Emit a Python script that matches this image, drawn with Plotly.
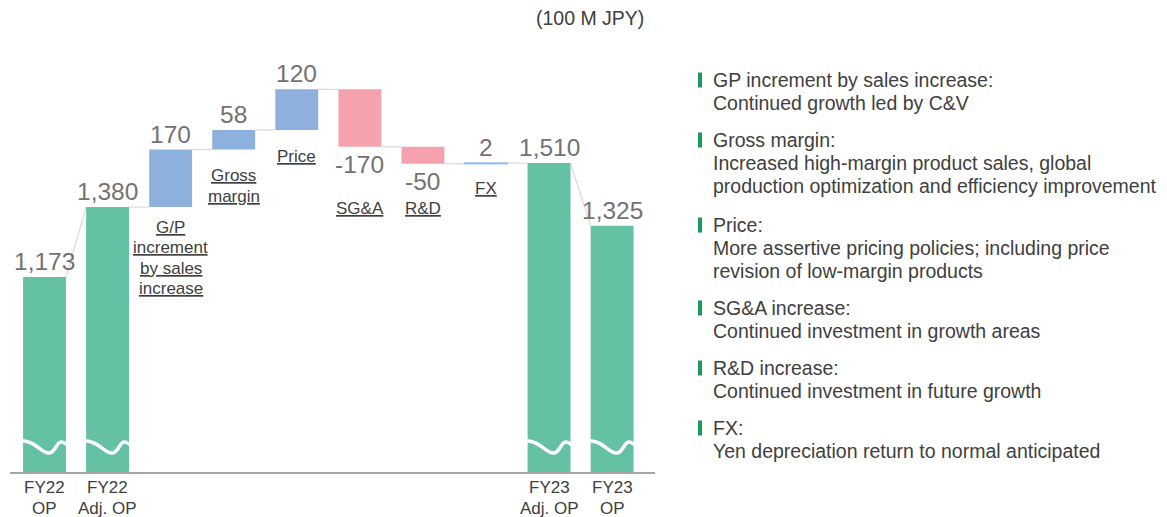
import plotly.graph_objects as go

# ---------------- data ----------------
fy22_op = 1173
fy22_adj_op = 1380
delta_names = [["G/P", "increment", "by sales", "increase"], ["Gross", "margin"], ["Price"],
               ["SG&A"], ["R&D"], ["FX"]]
delta_values = [170, 58, 120, -170, -50, 2]
fy23_adj_op = 1510
fy23_op = 1325
total_tick_labels = [["FY22", "OP"], ["FY22", "Adj. OP"], ["FY23", "Adj. OP"], ["FY23", "OP"]]
unit_label = "(100 M JPY)"
notes = [
    ["GP increment by sales increase:", "Continued growth led by C&V"],
    ["Gross margin:", "Increased high-margin product sales, global",
     "production optimization and efficiency improvement"],
    ["Price:", "More assertive pricing policies; including price",
     "revision of low-margin products"],
    ["SG&A increase:", "Continued investment in growth areas"],
    ["R&D increase:", "Continued investment in future growth"],
    ["FX:", "Yen depreciation return to normal anticipated"],
]

# ---------------- styles ----------------
GREEN = "#64C1A3"
BLUE = "#8EB0DC"
PINK = "#F5A2AE"
FX_BLUE = "#9DBEE8"
VAL_COLOR = "#767171"
TXT_COLOR = "#404040"
FONT = "Liberation Sans, Arial, sans-serif"
W, H = 1167, 517
BOT = 45
PH = H - BOT
BAR_W = 0.68
# offset (px) of first label line centre below the bar's low end, and line pitch
cat_label_first = [20, 26, 27, 62, 45, 24.5]
CAT_PITCH = 20.6

def py(p):  # pixel row -> paper fraction
    return (PH - p) / PH

def px(p):
    return p / W

# ---------------- positions ----------------
x_tot = [0, 1, 8, 9]
y_tot = [fy22_op, fy22_adj_op, fy23_adj_op, fy23_op]
x_delta = list(range(2, 8))
bases = []
level = fy22_adj_op
for d in delta_values:
    bases.append(level)
    level += d

fig = go.Figure()
fig.add_trace(go.Bar(x=x_tot, y=y_tot, width=BAR_W, marker=dict(color=GREEN, line=dict(width=0)),
                     hoverinfo="skip"))
d_colors = []
d_lw = []
for i, d in enumerate(delta_values):
    if delta_names[i][0] == "FX":
        d_colors.append(FX_BLUE); d_lw.append(1.5)
    elif d >= 0:
        d_colors.append(BLUE); d_lw.append(0)
    else:
        d_colors.append(PINK); d_lw.append(0)
fig.add_trace(go.Bar(x=x_delta, y=delta_values, base=bases, width=BAR_W,
                     marker=dict(color=d_colors, line=dict(color=d_colors, width=d_lw)),
                     hoverinfo="skip"))

# connectors
hw = BAR_W / 2
conn = [(0 + hw, fy22_op, 1 - hw, fy22_adj_op)]
lvl = fy22_adj_op
for i, d in enumerate(delta_values):
    xi = 2 + i
    conn.append((xi - 1 + hw, lvl, xi - hw, lvl))
    lvl += d
conn.append((7 + hw, lvl, 8 - hw, fy23_adj_op))
conn.append((8 + hw, fy23_adj_op, 9 - hw, fy23_op))
for (x0, y0, x1, y1) in conn:
    fig.add_shape(type="line", x0=x0, y0=y0, x1=x1, y1=y1, xref="x", yref="y",
                  line=dict(color="#D9D9D9", width=1.2), layer="below")

# break waves on total bars
for xc in x_tot:
    x0 = xc - hw - 0.02
    w = BAR_W + 0.04
    a, b, c, d_ = py(440.7), py(453), py(442), py(444.5)
    path = (f"M {x0},{a} C {x0+0.3*w},{a} {x0+0.42*w},{b} {x0+0.6*w},{b} "
            f"C {x0+0.74*w},{b} {x0+0.76*w},{c} {x0+0.87*w},{c} "
            f"C {x0+0.94*w},{c} {x0+0.97*w},{d_} {x0+w},{d_}")
    fig.add_shape(type="path", path=path, xref="x", yref="paper",
                  line=dict(color="white", width=3.5))

ann = []
VF = dict(size=24.5, color=VAL_COLOR, family=FONT)
# value labels
for xc, v in zip(x_tot, y_tot):
    ann.append(dict(x=xc, y=v, xref="x", yref="y", text=f"{v:,}", showarrow=False,
                    yanchor="bottom", yshift=0, font=VF))
for i, d in enumerate(delta_values):
    xc = 2 + i
    top = max(bases[i], bases[i] + d)
    bot = min(bases[i], bases[i] + d)
    if d >= 0:
        ann.append(dict(x=xc, y=top, xref="x", yref="y", text=f"{d}", showarrow=False,
                        yanchor="bottom", yshift=0, font=VF))
    else:
        ann.append(dict(x=xc, y=bot, xref="x", yref="y", text=f"{d}", showarrow=False,
                        yanchor="top", yshift=-2, font=VF))
    for j, line in enumerate(delta_names[i]):
        ann.append(dict(x=xc, y=bot, xref="x", yref="y", text=f"<u>{line}</u>", showarrow=False,
                        yanchor="middle", yshift=-(cat_label_first[i] + CAT_PITCH * j),
                        font=dict(size=17, color=TXT_COLOR, family=FONT)))

# category labels under the axis for totals
for xc, lines in zip(x_tot, total_tick_labels):
    for j, line in enumerate(lines):
        ann.append(dict(x=xc, y=py(488 + 20 * j), xref="x", yref="paper", text=line,
                        showarrow=False, yanchor="middle",
                        font=dict(size=17, color=TXT_COLOR, family=FONT)))

# unit label
ann.append(dict(x=px(646), y=py(18), xref="paper", yref="paper", text=unit_label,
                showarrow=False, xanchor="right", yanchor="middle",
                font=dict(size=19.5, color=TXT_COLOR, family=FONT)))

# notes panel
header_rows = [80, 140, 225, 308, 368, 428]
for block, yh in zip(notes, header_rows):
    for j, line in enumerate(block):
        ann.append(dict(x=px(711), y=py(yh + 23 * j), xref="paper", yref="paper", text=line,
                        showarrow=False, xanchor="left", yanchor="middle",
                        font=dict(size=19.5, color=TXT_COLOR, family=FONT)))
    fig.add_shape(type="rect", x0=px(698), x1=px(702), y0=py(yh + 7.5), y1=py(yh - 7.5),
                  xref="paper", yref="paper", fillcolor="#1B9B5E", line=dict(width=0))

fig.update_layout(
    width=W, height=H, margin=dict(l=0, r=0, t=0, b=BOT, autoexpand=False),
    paper_bgcolor="white", plot_bgcolor="white",
    showlegend=False, barmode="overlay",
    annotations=ann,
    xaxis=dict(domain=[px(10), px(655)], range=[-0.547, 9.68], showgrid=False, zeroline=False,
               showline=True, linecolor="#A6A6A6", linewidth=2, automargin=False,
               showticklabels=False, ticks=""),
    yaxis=dict(range=[597, 1992], visible=False, showgrid=False, zeroline=False),
    font=dict(family=FONT),
)

fig.write_html("out.html")
